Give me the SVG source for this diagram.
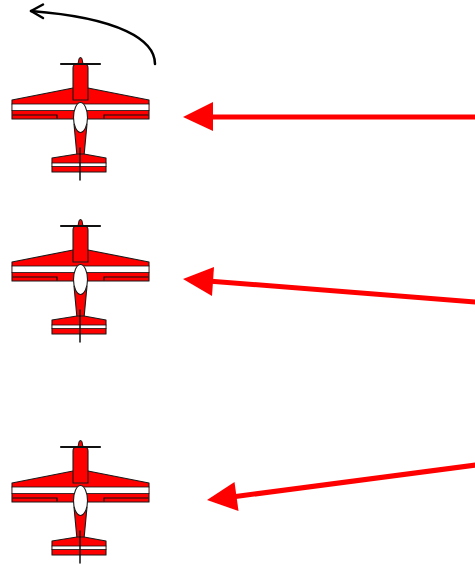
<svg xmlns="http://www.w3.org/2000/svg" xmlns:xlink="http://www.w3.org/1999/xlink" width="475" height="564" viewBox="0 0 475 564">
  <style>
    .red { fill: #ff0000; stroke: #1a1a1a; stroke-width: 1.1; stroke-linejoin: round; }
    .wht { fill: #ffffff; stroke: #1a1a1a; stroke-width: 1.1; }
    .ink { fill: none; stroke: #111111; stroke-linecap: round; }
    .pointer { stroke: #ff0000; stroke-width: 5; fill: none; }
    .head { fill: #ff0000; }
    .turn { fill: none; stroke: #000000; stroke-width: 2.5; stroke-linecap: round; stroke-linejoin: round; }
  </style>
  <defs>
    <!-- top view of an aerobatic plane, nose up -->
    <g id="plane">
      <!-- wing -->
      <path class="red" d="M12,100 L73,88 L88,88 L149,100 L149,119 L12,119 Z"/>
      <rect x="12.5" y="104" width="136" height="6.5" fill="#ffffff"/>
      <line class="ink" x1="12" y1="104" x2="149" y2="104" stroke-width="0.8"/>
      <line class="ink" x1="12" y1="110.5" x2="149" y2="110.5" stroke-width="0.8"/>
      <!-- ailerons -->
      <path class="ink" d="M13,115 L57,115 L57,118" stroke-width="1.2"/>
      <path class="ink" d="M148,115 L104,115 L104,118" stroke-width="1.2"/>
      <!-- nose and rear fuselage -->
      <path class="red" d="M73,100 L73,68 Q73,64 77,64 L84,64 Q88,64 88,68 L88,100 Z"/>
      <path class="red" d="M74,124 L77,156 L84,156 L87,124 Z"/>
      <!-- horizontal tail -->
      <path class="red" d="M52,158 L77,154 L84,154 L106,158 L106,172 L52,172 Z"/>
      <rect x="52.5" y="163" width="53" height="3.5" fill="#ffffff"/>
      <line class="ink" x1="52" y1="163" x2="106" y2="163" stroke-width="0.8"/>
      <line class="ink" x1="52" y1="166.5" x2="106" y2="166.5" stroke-width="0.8"/>
      <!-- canopy -->
      <ellipse class="wht" cx="80.5" cy="117.5" rx="7" ry="15"/>
      <!-- rudder -->
      <line class="ink" x1="80" y1="148" x2="80" y2="180" stroke-width="1.5"/>
      <!-- spinner and propeller -->
      <path class="red" d="M78,64 L79,59 Q80.5,56 82,59 L83,64 Z"/>
      <line class="ink" x1="61" y1="64" x2="100" y2="64" stroke-width="2.2"/>
    </g>
  </defs>

  <g id="plane-1">
    <use xlink:href="#plane"/>
  </g>
  <g id="plane-2">
    <use xlink:href="#plane" transform="translate(0,162)"/>
  </g>
  <g id="plane-3">
    <use xlink:href="#plane" transform="translate(0,383)"/>
  </g>

  <g id="connectors">
    <!-- roll direction -->
    <path class="turn" d="M155,64 C155,40 120,18 31,11"/>
    <path class="turn" d="M43,4.5 L31,11 L43,18"/>
    <!-- incoming pointers -->
    <line class="pointer" x1="475" y1="117" x2="208" y2="117"/>
    <polygon class="head" points="183,117 213,102 213,131"/>
    <line class="pointer" x1="476" y1="302" x2="208" y2="281"/>
    <polygon class="head" points="183,279 214,267 212,296"/>
    <line class="pointer" x1="476" y1="465" x2="232" y2="497"/>
    <polygon class="head" points="207,500 234.5,482 238.5,511"/>
  </g>
</svg>
